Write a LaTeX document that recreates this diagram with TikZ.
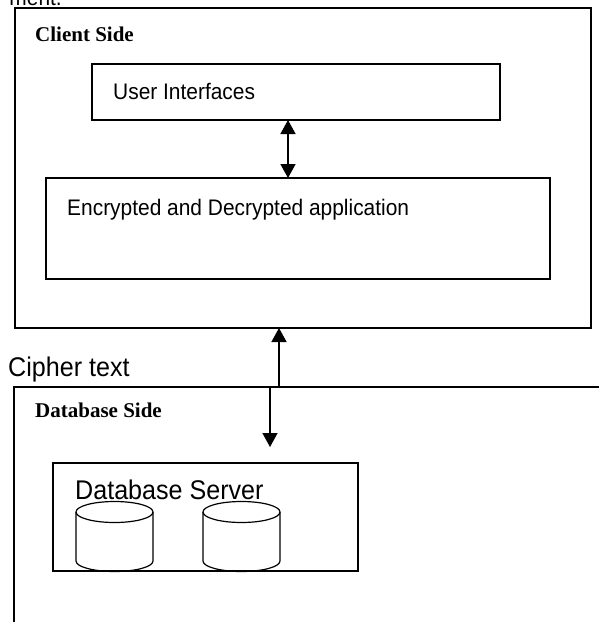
\documentclass[tikz,border=0pt]{standalone}
\usepackage{fontspec}
\setmainfont{Liberation Serif}
\newfontfamily\labelsans[FakeStretch=0.93]{Liberation Sans}
\usetikzlibrary{arrows.meta}

\tikzset{
  box/.style={draw, line width=1.5pt, inner sep=0pt, outer sep=0pt, anchor=north west},
  boxtext/.style={anchor=base west, inner sep=0pt, font=\labelsans\fontsize{22.5}{27}\selectfont},
  bigtext/.style={anchor=base west, inner sep=0pt, font=\labelsans\fontsize{27}{32}\selectfont},
  sidetitle/.style={anchor=base west, inner sep=0pt, font=\bfseries\fontsize{21}{25}\selectfont},
  link/.style={line width=1.5pt},
  >={Triangle[length=14pt, width=15pt]},
}

\begin{document}
\begin{tikzpicture}[x=1pt, y=-1pt]
    \useasboundingbox (0,0) rectangle (599,622);
    \clip (0,0) rectangle (599,622);
    % line of text cut off above
    \node[boxtext, anchor=base east] (cut) at (62,5) {ment.};
    % client side
    \node[box, minimum width=576pt, minimum height=320pt] (client) at (15,8) {};
    \node[sidetitle] (clienttitle) at (35,41) {Client Side};
    \node[box, minimum width=408pt, minimum height=56pt] (ui) at (92,64) {};
    \node[boxtext] (uitext) at (113,99) {User Interfaces};
    \node[box, minimum width=504pt, minimum height=101pt] (app) at (46,178) {};
    \node[boxtext] (apptext) at (67,215) {Encrypted and Decrypted application};
    \coordinate (uilink) at (288,0);
    \draw[link, <->] (ui.south -| uilink) -- (app.north -| uilink);
    % database side
    \coordinate (dbcorner) at (14,387);
    \draw[link] (599,387) -- (dbcorner) -- (14,622);
    \node[bigtext] (cipher) at (8,376) {Cipher text};
    \node[sidetitle] (dbtitle) at (35,417) {Database Side};
    \coordinate (cipherup) at (279,387);
    \coordinate (cipherdown) at (270,387);
    \coordinate (downend) at (270,447);
    \draw[link, ->] (cipherup) -- (cipherup |- client.south);
    \draw[link, ->] (cipherdown) -- (downend);
    \node[box, minimum width=305pt, minimum height=108pt] (server) at (53,463) {};
    \node[bigtext] (servertext) at (75,499) {Database Server};
    \foreach \cx in {114.5, 241.5} {
        \draw[line width=1.2pt] (\cx-38.5,512) -- (\cx-38.5,561)
            arc[start angle=180, end angle=0, x radius=38.5, y radius=10.5]
            -- (\cx+38.5,512);
        \draw[line width=1.2pt] (\cx,512) ellipse[x radius=38.5, y radius=10.5];
    }
\end{tikzpicture}
\end{document}
